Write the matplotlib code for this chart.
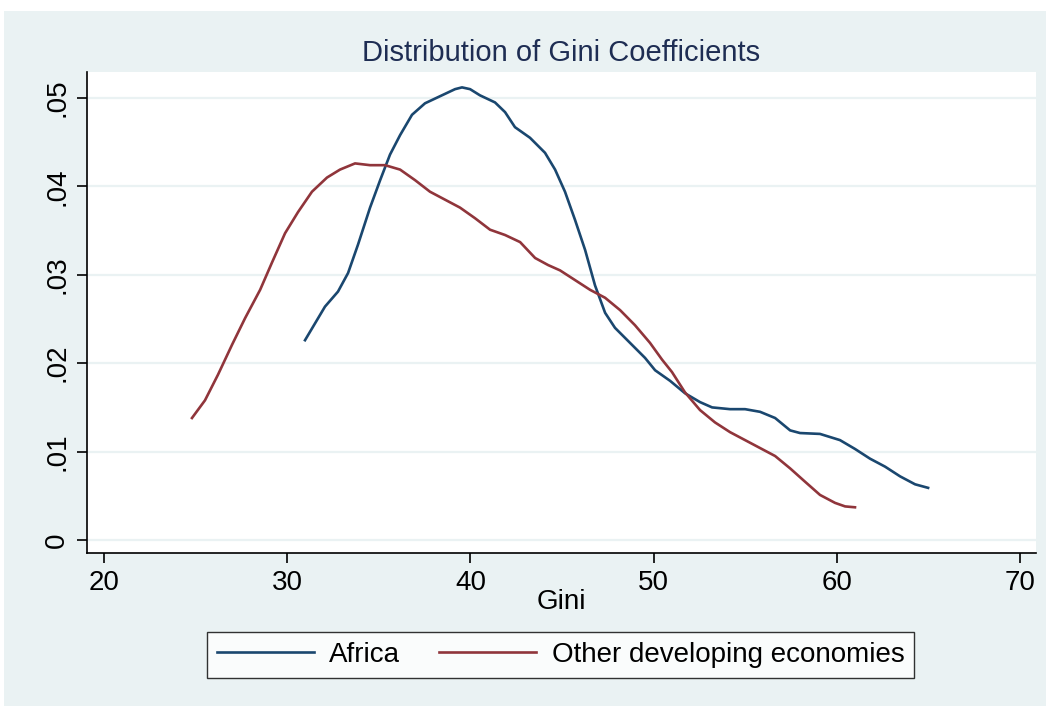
"""Kernel density of Gini coefficients, Africa vs other developing economies."""

import matplotlib

matplotlib.use("Agg")
import matplotlib.pyplot as plt
from matplotlib.patches import Rectangle

plt.rcParams["font.family"] = ["Liberation Sans", "DejaVu Sans"]

# values
africa_gini = [30.97, 32.06, 32.77, 33.32, 33.86, 34.52, 35.07, 35.61, 36.16, 36.81,
               37.52, 38.34, 39.16, 39.54, 39.98, 40.52, 41.34, 41.89, 42.43, 43.25,
               44.07, 44.62, 45.16, 45.71, 46.26, 46.80, 47.35, 47.89, 48.71, 49.53,
               50.08, 50.90, 51.71, 52.53, 53.19, 54.17, 54.99, 55.81, 56.63, 57.45,
               57.99, 59.08, 60.17, 60.99, 61.81, 62.63, 63.45, 64.27, 64.98]
africa_density = [.0226, .0264, .0281, .0302, .0334, .0376, .0407, .0436, .0458, .0481,
                  .0494, .0502, .0510, .0512, .0510, .0503, .0495, .0484, .0467, .0455,
                  .0438, .0419, .0394, .0362, .0328, .0288, .0257, .0240, .0223, .0206,
                  .0192, .0180, .0166, .0156, .0150, .0148, .0148, .0145, .0138, .0124,
                  .0121, .0120, .0113, .0103, .0092, .0083, .0072, .0063, .0059]

other_gini = [24.80, 25.51, 26.22, 26.99, 27.70, 28.52, 29.17, 29.88, 30.59, 31.35,
              32.17, 32.88, 33.70, 34.52, 35.34, 36.16, 36.98, 37.79, 38.61, 39.43,
              40.25, 41.07, 41.89, 42.71, 43.53, 44.24, 44.89, 45.71, 46.53, 47.35,
              48.17, 48.98, 49.80, 50.46, 51.00, 51.71, 52.53, 53.35, 54.17, 54.99,
              55.81, 56.63, 57.45, 58.26, 59.08, 59.90, 60.45, 60.99]
other_density = [.0138, .0158, .0187, .0221, .0251, .0283, .0314, .0347, .0371, .0394,
                 .0410, .0419, .0426, .0424, .0424, .0419, .0407, .0394, .0385, .0376,
                 .0364, .0351, .0345, .0337, .0319, .0311, .0305, .0294, .0283, .0274,
                 .0260, .0243, .0223, .0204, .0190, .0167, .0147, .0133, .0122, .0113,
                 .0104, .0095, .0081, .0066, .0051, .0042, .0038, .0037]

x_ticks = [20, 30, 40, 50, 60, 70]
y_ticks = [0, .01, .02, .03, .04, .05]
y_tick_labels = ["0", ".01", ".02", ".03", ".04", ".05"]

BG = "#EAF2F3"
AFRICA_COLOR = "#1A476F"
OTHER_COLOR = "#90353B"

fig = plt.figure(figsize=(10.48, 7.06), dpi=100, facecolor="white")
fig.patches.append(Rectangle((4 / 1048, 0), 1042 / 1048, 695 / 706,
                             transform=fig.transFigure, facecolor=BG,
                             edgecolor="none", zorder=-10))

ax = fig.add_axes([87 / 1048, 1 - 553 / 706, 949 / 1048, 481 / 706])
ax.set_facecolor("white")

ax.plot(africa_gini, africa_density, color=AFRICA_COLOR, lw=1.9, label="Africa")
ax.plot(other_gini, other_density, color=OTHER_COLOR, lw=1.9,
        label="Other developing economies")

ax.set_xlim(19.07, 70.87)
ax.set_ylim(-0.00147, 0.05294)
ax.set_xticks(x_ticks)
ax.set_yticks(y_ticks)
ax.set_yticklabels(y_tick_labels, rotation=90, va="center")
ax.tick_params(axis="both", direction="out", length=7, width=1.2,
               labelsize=20, colors="black", pad=5)
ax.grid(axis="y", color=BG, lw=1.6)
ax.set_axisbelow(True)

for side in ("top", "right"):
    ax.spines[side].set_visible(False)
for side in ("left", "bottom"):
    ax.spines[side].set_linewidth(1.2)

ax.set_xlabel("Gini", fontsize=20, labelpad=-5)
ax.set_title("Distribution of Gini Coefficients", fontsize=21,
             color="#1E2D53", pad=8)

leg = fig.legend(loc="center", bbox_to_anchor=(560.5 / 1048, 1 - 655 / 706),
                 ncol=2, fontsize=20, frameon=True, fancybox=False,
                 edgecolor="black", handlelength=3.5, handletextpad=0.55,
                 columnspacing=1.4, borderpad=0.35)
leg.get_frame().set_linewidth(1.0)

fig.savefig("out.png", dpi=100)
